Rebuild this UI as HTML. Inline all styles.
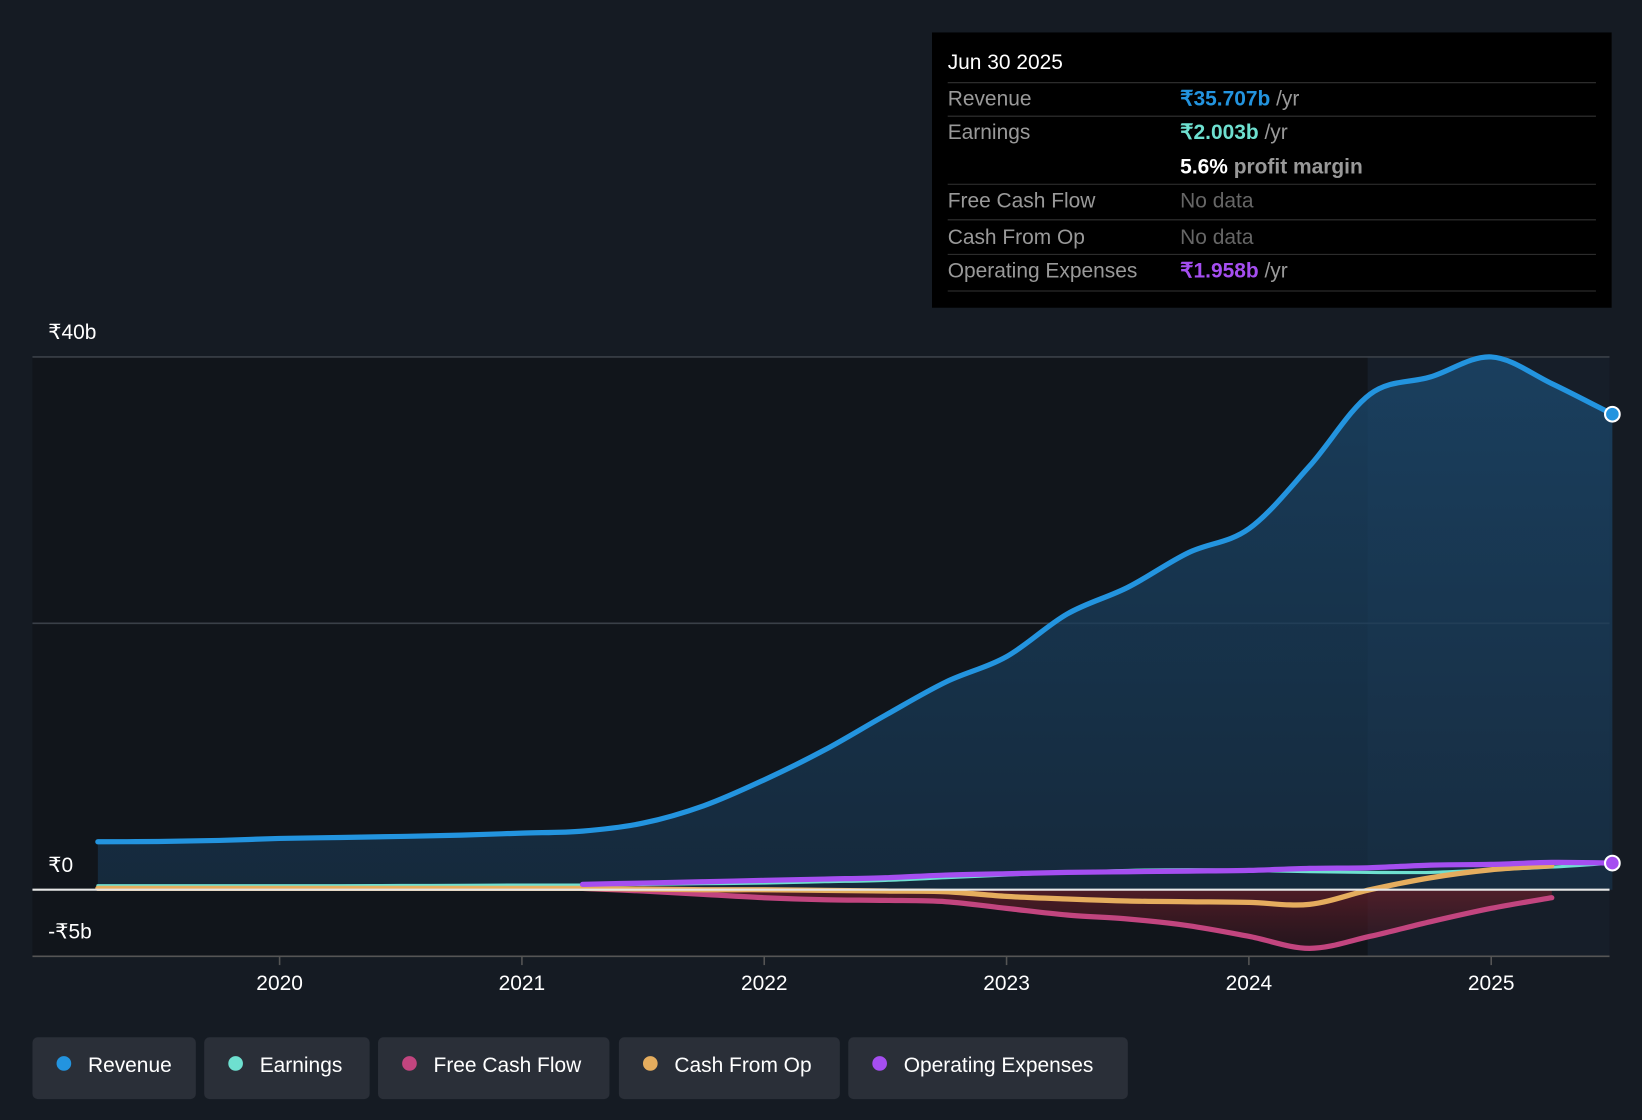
<!DOCTYPE html>
<html><head><meta charset="utf-8"><style>
html,body{margin:0;padding:0;background:#151b23;}
svg{display:block;font-family:"Liberation Sans",sans-serif;}
</style></head><body>
<svg id="chart" width="1642" height="1120" viewBox="0 0 1568 1070" preserveAspectRatio="none" xmlns="http://www.w3.org/2000/svg">
<defs>
<linearGradient id="revFill" x1="0" y1="0" x2="0" y2="1"><stop offset="0" stop-color="#1b4a70" stop-opacity="0.75"/><stop offset="1" stop-color="#17324a" stop-opacity="0.7"/></linearGradient>
<linearGradient id="fcfFill" x1="0" y1="0" x2="0" y2="1"><stop offset="0" stop-color="#6a1f2a" stop-opacity="0.7"/><stop offset="1" stop-color="#3a1620" stop-opacity="0.5"/></linearGradient>
</defs>
<rect x="0" y="0" width="1568" height="1070" fill="#151b23"/>
<rect x="31" y="341" width="1506" height="573" fill="#11151b"/>
<rect x="1306" y="341" width="231" height="573" fill="#1a2533" opacity="0.6"/>
<g id="grid"></g>
<g id="areas"></g>
<g id="lines"></g>
<g id="axes"></g>
<g>
<rect x="890" y="31" width="649" height="263" fill="#000"/>
<text x="905" y="66" fill="#fff" font-size="20">Jun 30 2025</text>
<line x1="905" y1="79" x2="1524" y2="79" stroke="#333"/>
<text x="905" y="101" fill="#999" font-size="20">Revenue</text>
<text x="1127" y="101" font-size="20" font-weight="bold" fill="#2394df">₹35.707b <tspan fill="#999" font-weight="normal">/yr</tspan></text>
<line x1="905" y1="111" x2="1524" y2="111" stroke="#333"/>
<text x="905" y="133" fill="#999" font-size="20">Earnings</text>
<text x="1127" y="133" font-size="20" font-weight="bold" fill="#6ee0d0">₹2.003b <tspan fill="#999" font-weight="normal">/yr</tspan></text>
<text x="1127" y="166" font-size="20" font-weight="bold" fill="#fff">5.6% <tspan fill="#999">profit margin</tspan></text>
<line x1="905" y1="176" x2="1524" y2="176" stroke="#333"/>
<text x="905" y="198" fill="#999" font-size="20">Free Cash Flow</text>
<text x="1127" y="198" fill="#666" font-size="20">No data</text>
<line x1="905" y1="210" x2="1524" y2="210" stroke="#333"/>
<text x="905" y="233" fill="#999" font-size="20">Cash From Op</text>
<text x="1127" y="233" fill="#666" font-size="20">No data</text>
<line x1="905" y1="243" x2="1524" y2="243" stroke="#333"/>
<text x="905" y="265" fill="#999" font-size="20">Operating Expenses</text>
<text x="1127" y="265" font-size="20" font-weight="bold" fill="#a54ef0">₹1.958b <tspan fill="#999" font-weight="normal">/yr</tspan></text>
<line x1="905" y1="278" x2="1524" y2="278" stroke="#333"/>
</g>
<g id="legend"></g>
</svg>
<script>
const revT = 2019.25;
const revenue = [3.6,3.62,3.7,3.85,3.92,4.0,4.1,4.25,4.4,5.0,6.3,8.25,10.5,13.1,15.6,17.5,20.7,22.7,25.3,27.1,31.8,37.2,38.5,40.0,38.0,35.7];
const earnings = [0.3,0.3,0.3,0.3,0.3,0.32,0.33,0.35,0.35,0.4,0.45,0.5,0.6,0.7,0.9,1.1,1.3,1.45,1.5,1.45,1.35,1.3,1.3,1.5,1.7,2.0];
const cfoT = 2019.25;
const cashFromOp = [0.1,0.1,0.1,0.1,0.1,0.1,0.1,0.1,0.1,0.05,0.0,0.0,-0.05,-0.1,-0.15,-0.5,-0.7,-0.85,-0.9,-0.95,-1.1,0.0,0.9,1.5,1.8];
const fcfT = 2021.25;
const freeCashFlow = [0.1,-0.1,-0.35,-0.6,-0.75,-0.8,-0.9,-1.4,-1.9,-2.2,-2.7,-3.5,-4.4,-3.5,-2.4,-1.4,-0.6];
const opexT = 2021.25;
const opex = [0.4,0.5,0.6,0.7,0.8,0.9,1.1,1.2,1.3,1.35,1.4,1.45,1.6,1.65,1.85,1.9,2.05,2.0];
const yTicks = [40,20,0,-5];
const yLabels = ["₹40b","","₹0","-₹5b"];
const xYears = [2020,2021,2022,2023,2024,2025];
const legendNames = ["Revenue","Earnings","Free Cash Flow","Cash From Op","Operating Expenses"];
const legendColors = ["#2394df","#6ee0d0","#c2457f","#e5ad5e","#a54ef0"];

const NS="http://www.w3.org/2000/svg";
const xS = t => 267 + (t-2020)*231.4;
const yS = v => 850 - v*12.725;
function mk(tag, attrs, parent){const e=document.createElementNS(NS,tag);for(const k in attrs)e.setAttribute(k,attrs[k]);parent.appendChild(e);return e;}
function pts(t0, arr){return arr.map((v,i)=>[xS(t0+i*0.25), yS(v)]);}
function smooth(p){let d=`M${p[0][0]},${p[0][1]}`;for(let i=0;i<p.length-1;i++){const p0=p[i-1]||p[i],p1=p[i],p2=p[i+1],p3=p[i+2]||p2;const c1=[p1[0]+(p2[0]-p0[0])/6,p1[1]+(p2[1]-p0[1])/6],c2=[p2[0]-(p3[0]-p1[0])/6,p2[1]-(p3[1]-p1[1])/6];d+=`C${c1[0]},${c1[1]} ${c2[0]},${c2[1]} ${p2[0]},${p2[1]}`;}return d;}

const grid=document.getElementById('grid'), axes=document.getElementById('axes'), areas=document.getElementById('areas'), lines=document.getElementById('lines'), legend=document.getElementById('legend');
yTicks.forEach((v,i)=>{
  const l=mk('line',{x1:31,x2:1537,y1:yS(v),y2:yS(v),stroke:v===0?'#e6e6e6':(v===-5?'#555':'#3a4048'),'stroke-width':v===0?2:1.5},v===0?axes:grid);
  
  
  if(yLabels[i]){const t=mk('text',{x:46,y:yS(v)-(v===-5?17:17),fill:'#fff','font-size':20},axes);t.textContent=yLabels[i];
  
  }
});
xYears.forEach(y=>{
  const tk=mk('line',{x1:xS(y),x2:xS(y),y1:914,y2:922,stroke:'#555','stroke-width':1.5},axes);
  
  
  const t=mk('text',{x:xS(y),y:946,fill:'#fff','font-size':20,'text-anchor':'middle'},axes);t.textContent=y;
  
  
});
// areas
const rp=pts(revT,revenue);
const ra=mk('path',{d:smooth(rp)+`L${rp[rp.length-1][0]},${yS(0)}L${rp[0][0]},${yS(0)}Z`,fill:'url(#revFill)'},areas);


const fp=pts(fcfT,freeCashFlow);
const fa=mk('path',{d:smooth(fp)+`L${fp[fp.length-1][0]},${yS(0)}L${fp[0][0]},${yS(0)}Z`,fill:'url(#fcfFill)'},areas);


const series=[[revT,revenue,0,'revenue-line',5],[revT,earnings,1,'earnings-line',3],[fcfT,freeCashFlow,2,'fcf-line',5],[cfoT,cashFromOp,3,'cash-from-op-line',5],[opexT,opex,4,'opex-line',5]];
series.forEach(s=>{
  const p=pts(s[0],s[1]);
  const e=mk('path',{d:smooth(p),fill:'none',stroke:legendColors[s[2]],'stroke-width':s[4],'stroke-linecap':'round'},lines);
  
  
});
const d1=mk('circle',{cx:xS(revT+(revenue.length-1)*0.25),cy:yS(revenue[revenue.length-1]),r:7,fill:'#2394df',stroke:'#fff','stroke-width':2},lines);


const d2=mk('circle',{cx:xS(opexT+(opex.length-1)*0.25),cy:yS(opex[opex.length-1]),r:7,fill:'#a54ef0',stroke:'#fff','stroke-width':2},lines);


// legend
const lx=[31,195,361,591,810], lw=[156,158,221,211,267];
legendNames.forEach((n,i)=>{
  const g=mk('g',{},legend);
  
  
  mk('rect',{x:lx[i],y:991,width:lw[i],height:59,rx:5,fill:'#2a2f38'},g);
  mk('circle',{cx:lx[i]+30,cy:1016,r:7,fill:legendColors[i]},g);
  const t=mk('text',{x:lx[i]+53,y:1024,fill:'#fff','font-size':20},g);t.textContent=n;
});
</script>
</body></html>
